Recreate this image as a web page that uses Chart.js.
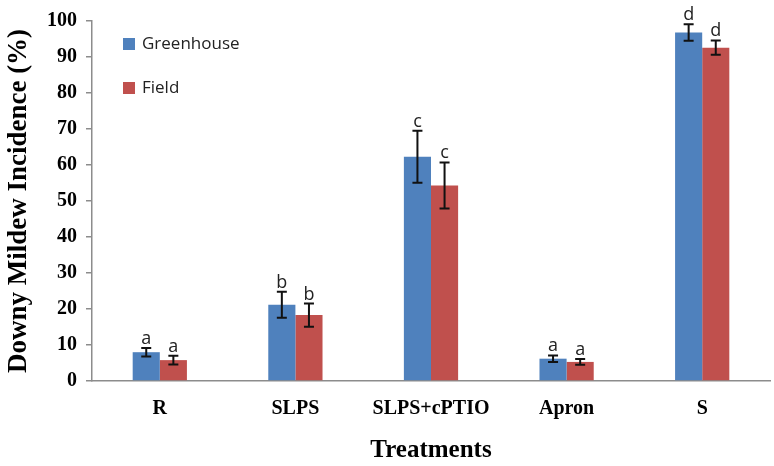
<!DOCTYPE html>
<html>
<head>
<meta charset="utf-8">
<script src="https://cdn.jsdelivr.net/npm/chart.js@4.4.0/dist/chart.umd.min.js"></script>
<style>
html, body { margin: 0; padding: 0; background: #fff; }
</style>
</head>
<body>
<canvas id="grafico" width="774" height="466"></canvas>
<script>
// datos
var tratamientos = ['R', 'SLPS', 'SLPS+cPTIO', 'Apron', 'S'];
var invernadero = [8.0, 21.2, 62.3, 6.2, 96.8];
var campo = [5.8, 18.3, 54.3, 5.3, 92.6];
var errInvernadero = [1.2, 3.6, 7.2, 0.9, 2.3];
var errCampo = [1.2, 3.2, 6.4, 0.8, 2.0];
var letrasInvernadero = ['a', 'b', 'c', 'a', 'd'];
var letrasCampo = ['a', 'b', 'c', 'a', 'd'];

var azul = 'rgb(79,129,189)';
var rojo = 'rgb(192,80,77)';

// barras de error + letras sobre cada barra
var barrasError = {
    id: 'barrasError',
    afterDatasetsDraw: function (chart) {
        var ctx = chart.ctx;
        var y = chart.scales.y;
        var errores = [errInvernadero, errCampo];
        var letras = [letrasInvernadero, letrasCampo];
        ctx.save();
        chart.data.datasets.forEach(function (ds, i) {
            var meta = chart.getDatasetMeta(i);
            meta.data.forEach(function (bar, j) {
                var v = ds.data[j];
                var e = errores[i][j];
                var arriba = y.getPixelForValue(v + e);
                var abajo = y.getPixelForValue(v - e);
                ctx.strokeStyle = '#111';
                ctx.lineWidth = 2;
                ctx.beginPath();
                ctx.moveTo(bar.x, arriba);
                ctx.lineTo(bar.x, abajo);
                ctx.moveTo(bar.x - 5, arriba);
                ctx.lineTo(bar.x + 5, arriba);
                ctx.moveTo(bar.x - 5, abajo);
                ctx.lineTo(bar.x + 5, abajo);
                ctx.stroke();
                ctx.fillStyle = '#222';
                ctx.font = '18px "Open Sans", sans-serif';
                ctx.textAlign = 'center';
                ctx.textBaseline = 'alphabetic';
                ctx.fillText(letras[i][j], bar.x, arriba - 4);
            });
        });
        ctx.restore();
    }
};

// leyenda dentro del area del grafico
var leyenda = {
    id: 'leyenda',
    afterDraw: function (chart) {
        var ctx = chart.ctx;
        ctx.save();
        ctx.font = '17px "Open Sans", sans-serif';
        ctx.textBaseline = 'middle';
        ctx.textAlign = 'left';
        chart.data.datasets.forEach(function (ds, i) {
            var yy = 44 + i * 44;
            ctx.fillStyle = ds.backgroundColor;
            ctx.fillRect(123, yy - 6, 12, 12);
            ctx.fillStyle = '#222';
            ctx.fillText(ds.label, 142, yy);
        });
        ctx.restore();
    }
};

new Chart(document.getElementById('grafico').getContext('2d'), {
    type: 'bar',
    data: {
        labels: tratamientos,
        datasets: [{
                label: 'Greenhouse',
                data: invernadero,
                backgroundColor: azul,
                borderWidth: 0
            }, {
                label: 'Field',
                data: campo,
                backgroundColor: rojo,
                borderWidth: 0
            }]
    },
    options: {
        responsive: false,
        animation: false,
        events: [],
        layout: {
            padding: {left: 0, top: 17, right: 4, bottom: 0}
        },
        datasets: {
            bar: {
                categoryPercentage: 0.4,
                barPercentage: 1.0
            }
        },
        plugins: {
            legend: {display: false},
            tooltip: {enabled: false}
        },
        scales: {
            x: {
                afterFit: function (scale) {
                    scale.height = 85;
                },
                grid: {display: false},
                border: {display: true, color: '#8c8c8c', width: 1.5},
                ticks: {
                    color: '#000',
                    padding: 8,
                    maxRotation: 0,
                    autoSkip: false,
                    font: {family: '"Liberation Serif", serif', size: 20, weight: 'bold'}
                },
                title: {
                    display: true,
                    text: 'Treatments',
                    color: '#000',
                    padding: {top: 0, bottom: 0},
                    font: {family: '"Liberation Serif", serif', size: 25, weight: 'bold'}
                }
            },
            y: {
                min: 0,
                max: 100,
                afterFit: function (scale) {
                    scale.width = 92;
                },
                grid: {
                    drawOnChartArea: false,
                    drawTicks: true,
                    tickLength: 6,
                    color: '#8c8c8c',
                    lineWidth: 1.5
                },
                border: {display: true, color: '#8c8c8c', width: 1.5},
                ticks: {
                    stepSize: 10,
                    color: '#000',
                    padding: 9,
                    font: {family: '"Liberation Serif", serif', size: 20, weight: 'bold'}
                },
                title: {
                    display: true,
                    text: 'Downy Mildew Incidence (%)',
                    color: '#000',
                    padding: {top: 3, bottom: 0},
                    font: {family: '"Liberation Serif", serif', size: 27, weight: 'bold'}
                }
            }
        }
    },
    plugins: [barrasError, leyenda]
});
</script>
</body>
</html>
